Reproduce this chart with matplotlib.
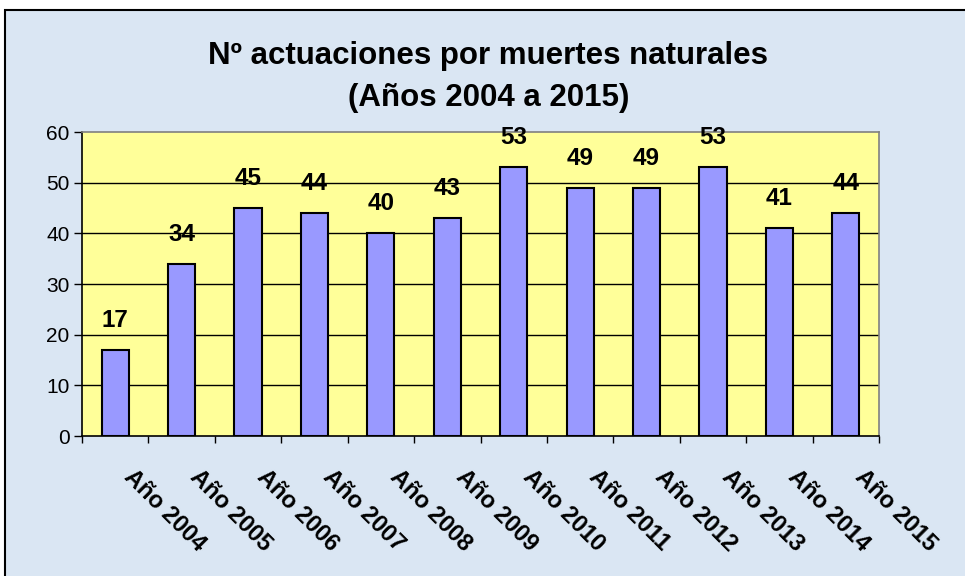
import matplotlib.pyplot as plt
import matplotlib.patches as mpatches
import numpy as np

# Data
years = ['Año 2004', 'Año 2005', 'Año 2006', 'Año 2007', 'Año 2008', 'Año 2009',
         'Año 2010', 'Año 2011', 'Año 2012', 'Año 2013', 'Año 2014', 'Año 2015']
actuaciones = [17, 34, 45, 44, 40, 43, 53, 49, 49, 53, 41, 44]

plt.rcParams['font.family'] = ['Liberation Sans', 'DejaVu Sans']

fig = plt.figure(figsize=(9.65, 5.76), dpi=100)
fig.patch.set_facecolor('white')

# outer chart frame (light blue background with black border)
frame = mpatches.Rectangle((5 / 965, -0.01), 1.0, 1 - 10 / 576 + 0.01,
                           transform=fig.transFigure, facecolor='#dae6f3',
                           edgecolor='black', linewidth=1.5, zorder=-10)
fig.add_artist(frame)

ax = fig.add_axes([82 / 965, 1 - 436 / 576, (879 - 82) / 965, (436 - 132) / 576])
ax.set_facecolor('#ffff99')

x = np.arange(len(years))
bars = ax.bar(x, actuaciones, width=0.41, color='#9999ff', edgecolor='black',
              linewidth=1.5, zorder=3)

for bar, v in zip(bars, actuaciones):
    ax.annotate(f'{v}', (bar.get_x() + bar.get_width() / 2, v),
                xytext=(0, 13), textcoords='offset points', ha='center', va='bottom',
                fontsize=17.5, fontweight='bold', annotation_clip=False, zorder=4)

ax.set_xlim(-0.5, len(years) - 0.5)
ax.set_ylim(0, 60)
ax.set_yticks(range(0, 61, 10))
ax.tick_params(axis='y', labelsize=15, length=6, width=1, direction='out', pad=3)

# ticks at category boundaries, labels near centres
ax.set_xticks(np.arange(-0.5, len(years), 1.0))
ax.set_xticklabels([])
ax.set_xticks(x + 0.31, minor=True)
ax.set_xticklabels(years, minor=True, rotation=-45, rotation_mode='anchor',
                   ha='left', va='top', fontsize=17, fontweight='bold')
ax.tick_params(axis='x', which='major', length=5, width=1, direction='out')
ax.tick_params(axis='x', which='minor', length=0, pad=21)

# gridlines
for yv in range(10, 60, 10):
    ax.axhline(yv, color='black', linewidth=1, zorder=1)

ax.spines['left'].set_color('black')
ax.spines['bottom'].set_color('black')
ax.spines['top'].set_color('#808080')
ax.spines['right'].set_color('#808080')
for s in ax.spines.values():
    s.set_linewidth(1.2)

fig.text(0.506, 0.902, 'Nº actuaciones por muertes naturales',
         ha='center', va='center', fontsize=22.5, fontweight='bold')
fig.text(0.506, 0.829, '(Años 2004 a 2015)',
         ha='center', va='center', fontsize=22.5, fontweight='bold')

fig.savefig('out.png', dpi=100)
